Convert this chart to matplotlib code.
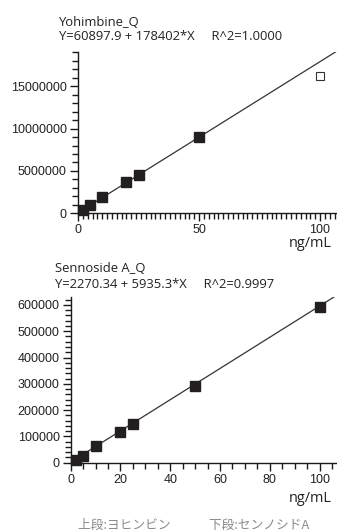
import matplotlib
matplotlib.use("Agg")
import matplotlib.pyplot as plt
import numpy as np

# Yohimbine
yoh_x = [2, 5, 10, 20, 25, 50]
yoh_y = [420000, 1000000, 1950000, 3720000, 4550000, 9020000]
yoh_excl_x = [100]
yoh_excl_y = [16150000]
yoh_a, yoh_b = 60897.9, 178402
yoh_title = "Yohimbine_Q"
yoh_eq = "Y=60897.9 + 178402*X     R^2=1.0000"
yoh_yticks = [0, 5000000, 10000000, 15000000]
yoh_xticks = [0, 50, 100]

# Sennoside A
sen_x = [2, 5, 10, 20, 25, 50, 100]
sen_y = [10000, 26500, 64500, 115500, 147000, 293000, 593000]
sen_a, sen_b = 2270.34, 5935.3
sen_title = "Sennoside A_Q"
sen_eq = "Y=2270.34 + 5935.3*X     R^2=0.9997"
sen_yticks = [0, 100000, 200000, 300000, 400000, 500000, 600000]
sen_xticks = [0, 20, 40, 60, 80, 100]

caption = "上段:ヨヒンビン　　　下段:センノシドA"

W, H = 337, 532
fig = plt.figure(figsize=(W/100, H/100), dpi=100)

def px(l, b, r, t):
    return [l/W, 1-b/H, (r-l)/W, (b-t)/H]

col = "#231f20"
axcol = "#1a1a1a"

def setup(ax, ymax, xticks, xminor_step, yticks, yminor_step):
    for s in ["top", "right"]:
        ax.spines[s].set_visible(False)
    for s in ["left", "bottom"]:
        ax.spines[s].set_color(axcol)
        ax.spines[s].set_linewidth(1.0)
    ax.set_xticks(xticks)
    ax.set_xticklabels([str(v) for v in xticks], family="Liberation Sans", size=9, color="#222222")
    ax.set_yticks(yticks)
    ax.set_yticklabels([str(v) for v in yticks], family="Liberation Sans", size=9, color="#222222")
    ax.set_xticks(np.arange(0, 107.01, xminor_step), minor=True)
    ax.set_yticks(np.arange(0, ymax + 1, yminor_step), minor=True)
    ax.set_xlim(0, 107)
    ax.set_ylim(0, ymax)
    ax.tick_params(which="major", length=6, width=1.0, color=axcol, pad=2)
    ax.tick_params(which="minor", length=4, width=1.0, color=axcol)

xs = np.linspace(0, 110, 50)

# top
ax1 = fig.add_axes(px(78, 213.3, 337, 52.3))
ax1.plot(xs, yoh_a + yoh_b*xs, color="#333333", lw=0.9, zorder=2)
ax1.plot(yoh_x, yoh_y, "s", ms=6.8, color=col, zorder=3, clip_on=False)
ax1.plot(yoh_excl_x, yoh_excl_y, "s", ms=6, mfc="white", mec="#333333", mew=0.8, zorder=3)
setup(ax1, 19000000, yoh_xticks, 2, yoh_yticks, 1000000)

# bottom
ax2 = fig.add_axes(px(70.7, 462.7, 337, 297.3))
ax2.plot(xs, sen_a + sen_b*xs, color="#333333", lw=0.9, zorder=2)
ax2.plot(sen_x, sen_y, "s", ms=6.8, color=col, zorder=3, clip_on=False)
setup(ax2, 629000, sen_xticks, 5, sen_yticks, 20000)

txtfont = dict(family="Open Sans", size=9.4, color="#222222")
fig.text(59/W, 1-22/H, yoh_title, va="center", ha="left", **txtfont)
fig.text(59/W, 1-36/H, yoh_eq, va="center", ha="left", **txtfont)
fig.text(55/W, 1-269/H, sen_title, va="center", ha="left", **txtfont)
fig.text(55/W, 1-284/H, sen_eq, va="center", ha="left", **txtfont)

fig.text(332/W, 1-243/H, "ng/mL", va="center", ha="right", family="Open Sans", size=10.4, color="#222222")
fig.text(332/W, 1-499/H, "ng/mL", va="center", ha="right", family="Open Sans", size=10.4, color="#222222")

fig.text(193.5/W, 1-525.5/H, caption, va="center", ha="center",
         family=["Noto Sans CJK JP", "DejaVu Sans"], size=9.2, color="#8a8a8a")

fig.savefig("out.png", dpi=100)
